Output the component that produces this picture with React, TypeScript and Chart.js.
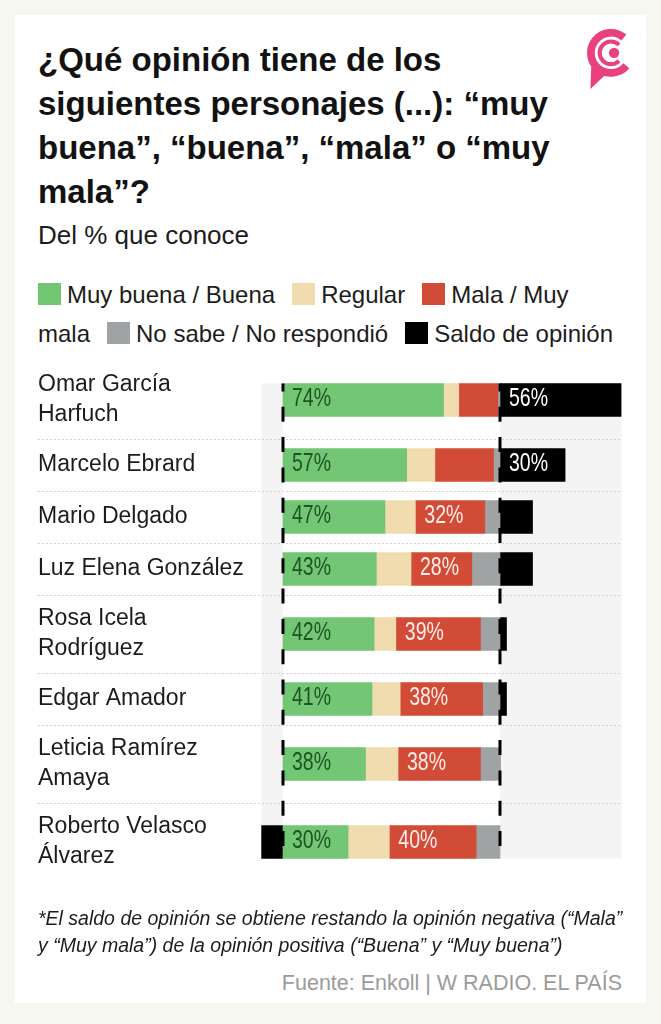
import React, { useEffect, useRef } from "react";
import { Chart, registerables } from "chart.js";

Chart.register(...registerables);

// Personajes evaluados (cada subarreglo es una línea de la etiqueta)
const nombres: string[][] = [
  ["Omar García", "Harfuch"],
  ["Marcelo Ebrard"],
  ["Mario Delgado"],
  ["Luz Elena González"],
  ["Rosa Icela", "Rodríguez"],
  ["Edgar Amador"],
  ["Leticia Ramírez", "Amaya"],
  ["Roberto Velasco", "Álvarez"],
];

// Porcentajes del % que conoce a cada personaje
const buena = [74, 57, 47, 43, 42, 41, 38, 30];
const regular = [7, 13, 14, 16, 10, 13, 15, 19];
const mala = [18, 27, 32, 28, 39, 38, 38, 40];
const noSabe = [1, 3, 7, 13, 9, 8, 9, 11];

// Qué cifras se rotulan sobre las barras
const rotularMala = [false, false, true, true, true, true, true, true];
const rotularSaldo = [true, true, false, false, false, false, false, false];

// Saldo de opinión = positiva − negativa
const saldo = buena.map((b, i) => b - mala[i]);

const COLOR_BUENA = "#72c674";
const COLOR_REGULAR = "#f0dcae";
const COLOR_MALA = "#d24b36";
const COLOR_NOSABE = "#9fa3a4";
const COLOR_SALDO = "#000000";

const SANS = '"Liberation Sans", Arial, Helvetica, sans-serif';

// Filas de altura variable: 2 unidades por línea simple, 3 por etiqueta de dos líneas
const alturas = nombres.map((n) => (n.length > 1 ? 3 : 2));
const centros: number[] = [];
const limites: number[] = [];
let acumulado = 0;
alturas.forEach((h, i) => {
  centros.push(acumulado + h / 2);
  acumulado += h;
  if (i < alturas.length - 1) limites.push(acumulado);
});
const totalUnidades = acumulado;

const BAR = 33;

// Texto estrechado horizontalmente para las cifras
function textoEstrecho(ctx: CanvasRenderingContext2D, t: string, x: number, y: number) {
  ctx.save();
  ctx.translate(x, y);
  ctx.scale(0.78, 1);
  ctx.fillText(t, 0, 0);
  ctx.restore();
}

const fondoPlugin = {
  id: "fondo",
  beforeDatasetsDraw(chart: any) {
    const { ctx, chartArea, scales } = chart;
    const x = scales.x;
    const y = scales.y;
    const top = y.getPixelForValue(centros[0]) - BAR / 2;
    const bottom = y.getPixelForValue(centros[centros.length - 1]) + BAR / 2;
    const x0 = x.getPixelForValue(0);
    const x100 = x.getPixelForValue(100);
    ctx.save();
    ctx.fillStyle = "#f4f4f4";
    ctx.fillRect(chartArea.left, top, x0 - chartArea.left, bottom - top);
    ctx.fillRect(x100, top, chartArea.right - x100, bottom - top);
    // separadores punteados entre filas
    ctx.strokeStyle = "#d2d2d2";
    ctx.lineWidth = 1;
    ctx.setLineDash([2, 2]);
    limites.forEach((v) => {
      const py = Math.round(y.getPixelForValue(v)) + 0.5;
      ctx.beginPath();
      ctx.moveTo(y.left, py);
      ctx.lineTo(chartArea.right, py);
      ctx.stroke();
    });
    ctx.restore();
  },
  afterDatasetsDraw(chart: any) {
    const { ctx, scales } = chart;
    const x = scales.x;
    const y = scales.y;
    const top = y.getPixelForValue(centros[0]) - BAR / 2;
    const bottom = y.getPixelForValue(centros[centros.length - 1]) + BAR / 2;
    ctx.save();
    // líneas de referencia en 0% y 100%
    ctx.strokeStyle = "#000";
    ctx.lineWidth = 3;
    ctx.setLineDash([15, 15.3]);
    ctx.lineDashOffset = 7;
    [0, 100].forEach((v) => {
      const px = x.getPixelForValue(v);
      ctx.beginPath();
      ctx.moveTo(px, top);
      ctx.lineTo(px, bottom);
      ctx.stroke();
    });
    ctx.setLineDash([]);
    // cifras
    ctx.font = `25px ${SANS}`;
    ctx.textBaseline = "middle";
    ctx.textAlign = "left";
    buena.forEach((b, i) => {
      const py = y.getPixelForValue(centros[i]) - 1;
      ctx.fillStyle = "#1d5424";
      textoEstrecho(ctx, `${b}%`, x.getPixelForValue(0) + 9, py);
      if (rotularMala[i]) {
        ctx.fillStyle = "#fdeee9";
        textoEstrecho(ctx, `${mala[i]}%`, x.getPixelForValue(b + regular[i]) + 9, py);
      }
      if (rotularSaldo[i]) {
        ctx.fillStyle = "#ffffff";
        textoEstrecho(ctx, `${saldo[i]}%`, x.getPixelForValue(100) + 9, py);
      }
    });
    ctx.restore();
  },
};

function Grafica() {
  const ref = useRef<HTMLCanvasElement | null>(null);
  useEffect(() => {
    if (!ref.current) return;
    const tramo = (desde: number[], valores: number[]) =>
      valores.map((v, i) => ({ y: centros[i], x: [desde[i], desde[i] + v] }));
    const inicioBuena = buena.map(() => 0);
    const inicioRegular = buena.slice();
    const inicioMala = buena.map((b, i) => b + regular[i]);
    const inicioNoSabe = buena.map((b, i) => b + regular[i] + mala[i]);
    const saldoData = saldo.map((s, i) => ({ y: centros[i], x: s >= 0 ? [100, 100 + s] : [s, 0] }));

    const chart = new Chart(ref.current, {
      type: "bar",
      data: {
        datasets: [
          { label: "Muy buena / Buena", data: tramo(inicioBuena, buena) as any, backgroundColor: COLOR_BUENA },
          { label: "Regular", data: tramo(inicioRegular, regular) as any, backgroundColor: COLOR_REGULAR },
          { label: "Mala / Muy mala", data: tramo(inicioMala, mala) as any, backgroundColor: COLOR_MALA },
          { label: "No sabe / No respondió", data: tramo(inicioNoSabe, noSabe) as any, backgroundColor: COLOR_NOSABE },
          { label: "Saldo de opinión", data: saldoData as any, backgroundColor: COLOR_SALDO },
        ],
      },
      options: {
        indexAxis: "y",
        responsive: false,
        animation: false,
        devicePixelRatio: 1,
        layout: { padding: { top: 40, bottom: 40, left: 0, right: 4.5 } },
        datasets: { bar: { grouped: false, barThickness: BAR, borderWidth: 0 } } as any,
        plugins: { legend: { display: false }, tooltip: { enabled: false } },
        scales: {
          x: { type: "linear", min: -10, max: 156, display: false },
          y: {
            type: "linear",
            min: 0,
            max: totalUnidades,
            reverse: true,
            offset: false,
            grace: 0,
            bounds: "data",
            grid: { display: false, offset: false },
            border: { display: false },
            afterBuildTicks: (scale: any) => {
              scale.ticks = centros.map((v) => ({ value: v }));
            },
            afterFit: (scale: any) => {
              scale.width = 223.3;
              scale.paddingTop = 0;
              scale.paddingBottom = 0;
            },
            ticks: {
              autoSkip: false,
              crossAlign: "far",
              padding: 0,
              color: "#1c1c1c",
              font: { family: SANS, size: 23, lineHeight: 1.3 },
              callback: (_v: any, i: number) => nombres[i],
            },
          },
        },
      },
      plugins: [fondoPlugin],
    });
    return () => chart.destroy();
  }, []);
  return (
    <canvas
      ref={ref}
      width={588}
      height={600}
      style={{ position: "absolute", left: 38, top: 321, width: 588, height: 600, display: "block" }}
    />
  );
}

function Cuadro({ color }: { color: string }) {
  return (
    <span
      style={{
        display: "inline-block",
        width: 23,
        height: 22,
        background: color,
        verticalAlign: "-2px",
        marginRight: 6,
      }}
    />
  );
}

function Logo() {
  const rosa = "#e9407f";
  return (
    <svg width={54} height={68} viewBox="0 0 52 66" style={{ position: "absolute", left: 585, top: 24 }}>
      <path d="M 37.53 13.06 A 19.5 19.5 0 1 0 39.94 40.53" fill="none" stroke={rosa} strokeWidth={7.5} />
      <path d="M 32.78 20.22 A 11 11 0 1 0 32.78 35.78" fill="none" stroke={rosa} strokeWidth={4} />
      <circle cx={28} cy={28} r={5} fill={rosa} />
      <polygon points="6,38 5,63 21,48" fill={rosa} />
    </svg>
  );
}

export default function App() {
  return (
    <div
      style={{
        position: "absolute",
        left: 0,
        top: 0,
        width: 661,
        height: 1024,
        overflow: "hidden",
        background: "#f7f7f1",
        fontFamily: SANS,
        color: "#1c1c1c",
      }}
    >
      <div style={{ position: "absolute", left: 15, top: 15, width: 631, height: 988, background: "#ffffff" }} />
      <div
        style={{
          position: "absolute",
          left: 38,
          top: 38,
          fontWeight: 700,
          fontSize: 33,
          lineHeight: "44px",
          color: "#121212",
          whiteSpace: "nowrap",
        }}
      >
        ¿Qué opinión tiene de los
        <br />
        siguientes personajes (...): “muy
        <br />
        buena”, “buena”, “mala” o “muy
        <br />
        mala”?
      </div>
      <Logo />
      <div style={{ position: "absolute", left: 38, top: 220, fontSize: 26, lineHeight: "30px", whiteSpace: "nowrap" }}>
        Del % que conoce
      </div>
      <div style={{ position: "absolute", left: 38, top: 275, fontSize: 24, lineHeight: "39px", whiteSpace: "nowrap" }}>
        <Cuadro color={COLOR_BUENA} />
        Muy buena / Buena
        <span style={{ marginLeft: 17 }} />
        <Cuadro color={COLOR_REGULAR} />
        Regular
        <span style={{ marginLeft: 17 }} />
        <Cuadro color={COLOR_MALA} />
        Mala / Muy
        <br />
        mala
        <span style={{ marginLeft: 17 }} />
        <Cuadro color={COLOR_NOSABE} />
        No sabe / No respondió
        <span style={{ marginLeft: 17 }} />
        <Cuadro color={COLOR_SALDO} />
        Saldo de opinión
      </div>
      <Grafica />
      <div
        style={{
          position: "absolute",
          left: 38,
          top: 905,
          fontSize: 19.5,
          fontStyle: "italic",
          lineHeight: "27px",
          whiteSpace: "nowrap",
        }}
      >
        *El saldo de opinión se obtiene restando la opinión negativa (“Mala”
        <br />y “Muy mala”) de la opinión positiva (“Buena” y “Muy buena”)
      </div>
      <div
        style={{
          position: "absolute",
          right: 39,
          top: 970,
          fontSize: 21.5,
          lineHeight: "26px",
          color: "#9b9b9b",
          whiteSpace: "nowrap",
        }}
      >
        Fuente: Enkoll | W RADIO. EL PAÍS
      </div>
    </div>
  );
}
